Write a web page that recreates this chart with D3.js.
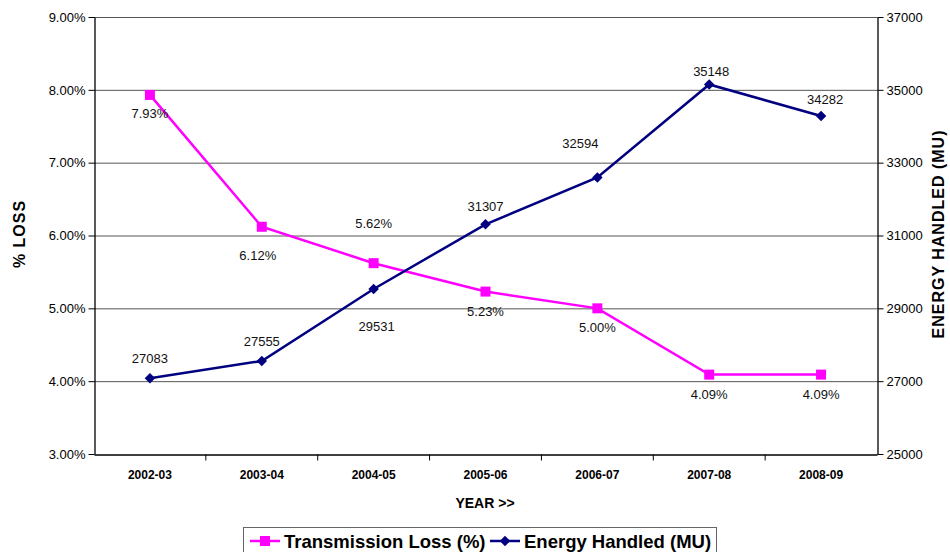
<!DOCTYPE html>
<html>
<head>
<meta charset="utf-8">
<script src="https://cdn.jsdelivr.net/npm/d3@7"></script>
<style>
  body { margin: 0; background: #fff; }
  svg { font-family: "Liberation Sans", Arial, sans-serif; }
</style>
</head>
<body>
<svg id="chart" width="950" height="552"></svg>
<script>
// chart data
const years = ["2002-03", "2003-04", "2004-05", "2005-06", "2006-07", "2007-08", "2008-09"];
const lossPct = [7.93, 6.12, 5.62, 5.23, 5.00, 4.09, 4.09];
const energyMU = [27083, 27555, 29531, 31307, 32594, 35148, 34282];
const lossTicks = [3, 4, 5, 6, 7, 8, 9];
const energyTicks = [25000, 27000, 29000, 31000, 33000, 35000, 37000];

// label nudges (px) so labels sit like the original
const lossLabelOff = [[0, 19], [-4, 29], [0, -40], [0, 20], [0, 19], [0, 20], [0, 20]];
const energyLabelOff = [[0, -20], [0, -20], [3, 37], [0, -18], [-17, -34], [2, -13], [4, -17]];

const svg = d3.select("#chart");
const m = { left: 94, right: 877, top: 17, bottom: 454 };

const x = d3.scaleBand().domain(years).range([m.left, m.right]).padding(0);
const yL = d3.scaleLinear().domain([3, 9]).range([m.bottom, m.top]);
const yR = d3.scaleLinear().domain([25000, 37000]).range([m.bottom, m.top]);
const cx = d => x(d) + x.bandwidth() / 2;

// gridlines
svg.append("g").selectAll("line").data(lossTicks.slice(1)).join("line")
  .attr("x1", m.left).attr("x2", m.right)
  .attr("y1", d => yL(d) + 0.5).attr("y2", d => yL(d) + 0.5)
  .attr("stroke", "#555").attr("stroke-width", 1);

// left axis
const gL = svg.append("g").attr("transform", `translate(${m.left + 0.5},0)`)
  .call(d3.axisLeft(yL).tickValues(lossTicks).tickSize(6).tickSizeOuter(0)
    .tickFormat(d => d.toFixed(2) + "%"));
// right axis
const gR = svg.append("g").attr("transform", `translate(${m.right + 0.5},0)`)
  .call(d3.axisRight(yR).tickValues(energyTicks).tickSize(6).tickSizeOuter(0)
    .tickFormat(d3.format("d")));
// bottom axis
const gB = svg.append("g").attr("transform", `translate(0,${m.bottom + 0.5})`)
  .call(d3.axisBottom(x).tickSize(0).tickSizeOuter(0));
gB.selectAll(".tick text").attr("dy", "1.75em")
  .style("font-weight", "bold").style("font-size", "12px").attr("fill", "#000");
// tick marks between categories
gB.selectAll(".sep").data(years.slice(1)).join("line").attr("class", "sep")
  .attr("x1", d => x(d)).attr("x2", d => x(d)).attr("y1", 0).attr("y2", 6)
  .attr("stroke", "#000");

[gL, gR, gB].forEach(g => {
  g.select(".domain").attr("stroke", "#000").attr("stroke-width", 1.3);
  g.selectAll(".tick line").attr("stroke", "#000");
});
gL.selectAll(".tick text").style("font-size", "13px").attr("fill", "#000");
gR.selectAll(".tick text").style("font-size", "13px").attr("fill", "#000");

// axis titles
svg.append("text").attr("transform", "translate(25,234) rotate(-90)")
  .attr("text-anchor", "middle").style("font-weight", "bold").style("font-size", "16px")
  .style("letter-spacing", "1px").text("% LOSS");
svg.append("text").attr("transform", "translate(944,234) rotate(-90)")
  .attr("text-anchor", "middle").style("font-weight", "bold").style("font-size", "16px")
  .style("letter-spacing", "1px").text("ENERGY HANDLED (MU)");
svg.append("text").attr("x", 485).attr("y", 508)
  .attr("text-anchor", "middle").style("font-weight", "bold").style("font-size", "14px")
  .text("YEAR >>");

// lines
const lossLine = d3.line().x((d, i) => cx(years[i])).y(d => yL(d));
const energyLine = d3.line().x((d, i) => cx(years[i])).y(d => yR(d));

svg.append("path").datum(lossPct).attr("d", lossLine)
  .attr("fill", "none").attr("stroke", "#ff00ff").attr("stroke-width", 2.5);
svg.append("path").datum(energyMU).attr("d", energyLine)
  .attr("fill", "none").attr("stroke", "#000080").attr("stroke-width", 2.5);

// markers
svg.append("g").selectAll("rect").data(lossPct).join("rect")
  .attr("x", (d, i) => cx(years[i]) - 5).attr("y", d => yL(d) - 5)
  .attr("width", 10).attr("height", 10).attr("fill", "#ff00ff");
const diamond = d3.symbol().type(d3.symbolDiamond2).size(70);
svg.append("g").selectAll("path").data(energyMU).join("path")
  .attr("d", diamond)
  .attr("transform", (d, i) => `translate(${cx(years[i])},${yR(d)})`)
  .attr("fill", "#000080");

// data labels
svg.append("g").selectAll("text").data(lossPct).join("text")
  .attr("x", (d, i) => cx(years[i]) + lossLabelOff[i][0])
  .attr("y", (d, i) => yL(d) + lossLabelOff[i][1])
  .attr("dy", "0.35em").attr("text-anchor", "middle")
  .style("font-size", "13px").attr("fill", "#111")
  .text(d => d.toFixed(2) + "%");
svg.append("g").selectAll("text").data(energyMU).join("text")
  .attr("x", (d, i) => cx(years[i]) + energyLabelOff[i][0])
  .attr("y", (d, i) => yR(d) + energyLabelOff[i][1])
  .attr("dy", "0.35em").attr("text-anchor", "middle")
  .style("font-size", "13px").attr("fill", "#111")
  .text(d => d);

// legend
const lg = svg.append("g");
lg.append("rect").attr("x", 243.5).attr("y", 527.5).attr("width", 473).attr("height", 30)
  .attr("fill", "#fff").attr("stroke", "#666");
const items = [
  { name: "Transmission Loss (%)", color: "#ff00ff", x: 250, shape: "sq" },
  { name: "Energy Handled (MU)", color: "#000080", x: 490, shape: "dia" }
];
items.forEach(it => {
  lg.append("line").attr("x1", it.x).attr("x2", it.x + 30).attr("y1", 541).attr("y2", 541)
    .attr("stroke", it.color).attr("stroke-width", 2.5);
  if (it.shape === "sq") {
    lg.append("rect").attr("x", it.x + 10).attr("y", 536).attr("width", 10).attr("height", 10)
      .attr("fill", it.color);
  } else {
    lg.append("path").attr("d", diamond).attr("transform", `translate(${it.x + 15},541)`)
      .attr("fill", it.color);
  }
  lg.append("text").attr("x", it.x + 34).attr("y", 548)
    .style("font-weight", "bold").style("font-size", "18.5px").attr("fill", "#000")
    .text(it.name);
});
</script>
</body>
</html>
